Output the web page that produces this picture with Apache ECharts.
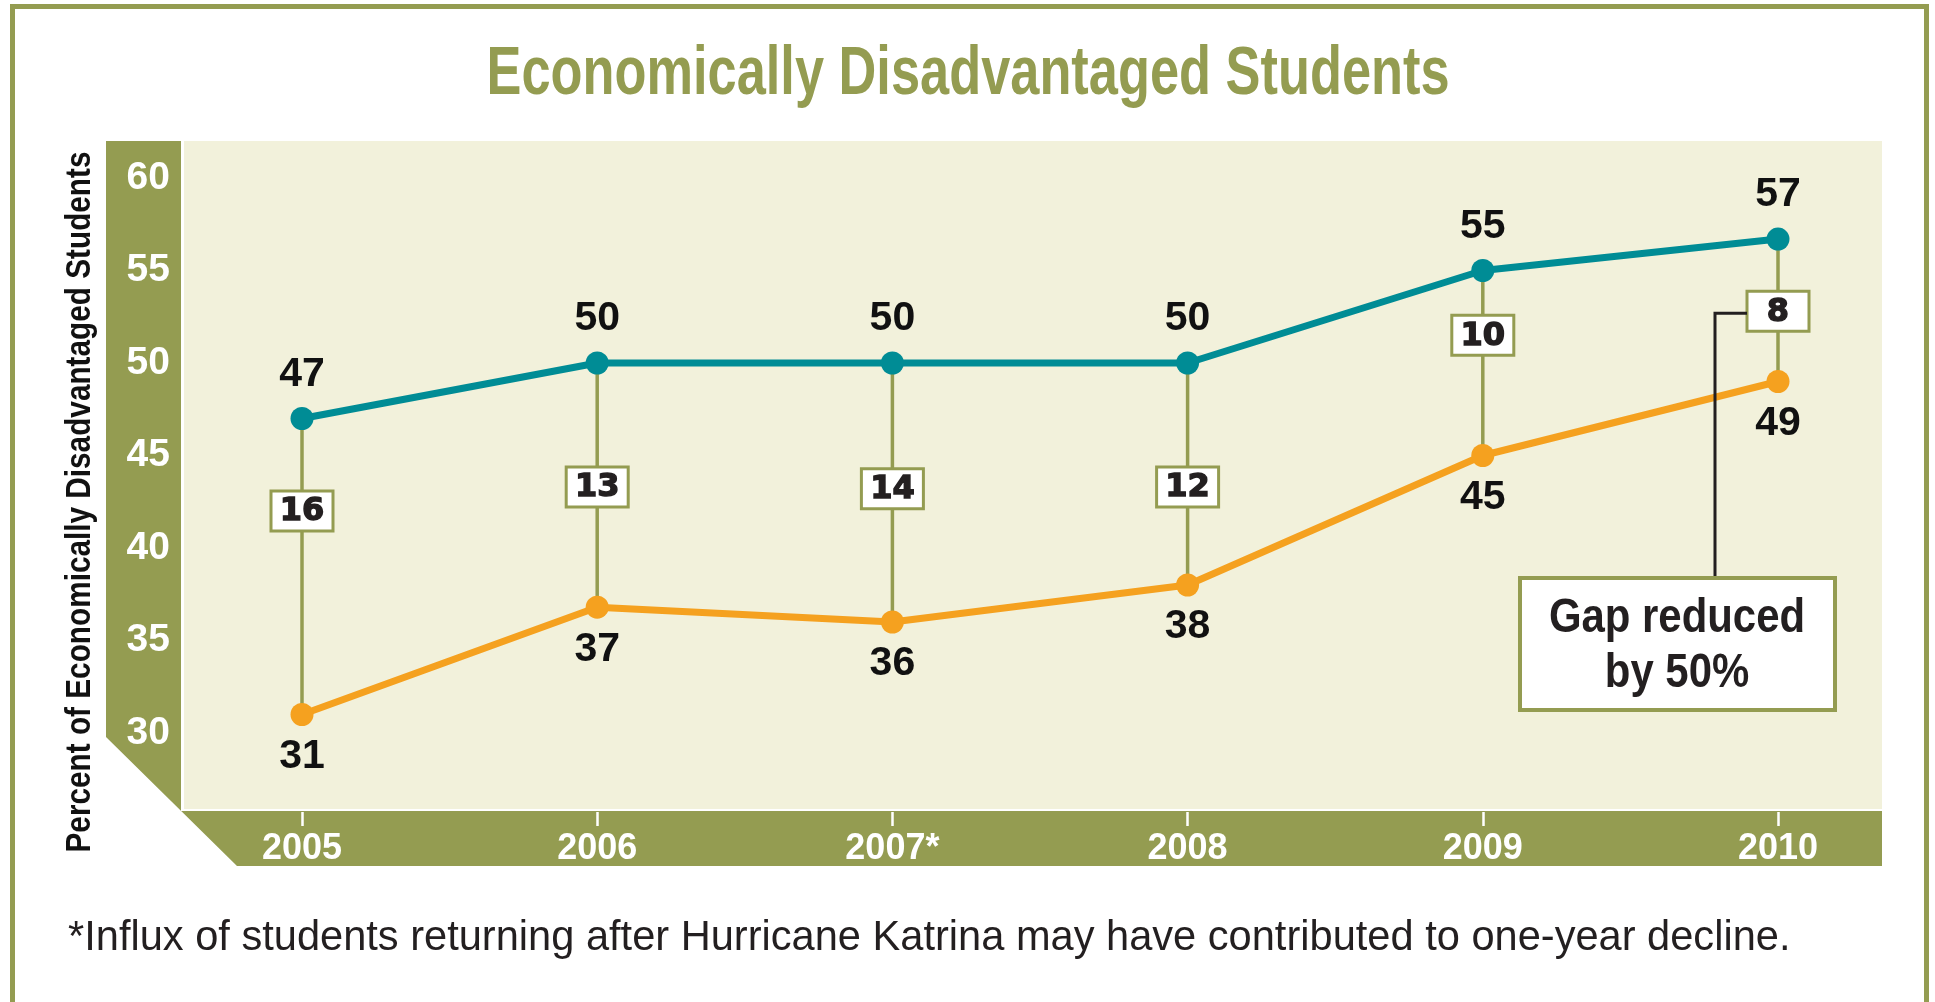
<!DOCTYPE html>
<html>
<head>
<meta charset="utf-8">
<script src="https://cdn.jsdelivr.net/npm/echarts@6/dist/echarts.min.js"></script>
<style>
    html, body { margin: 0; padding: 0; background: #fff; }
    #chart { width: 1935px; height: 1002px; }
</style>
</head>
<body>
<div id="chart"></div>
<script>
// 数据
var years = ['2005', '2006', '2007*', '2008', '2009', '2010'];
var tealValues = [47, 50, 50, 50, 55, 56.7];     // 上方折线
var orangeValues = [31, 36.8, 36, 38, 45, 49];   // 下方折线
var gapValues = [16, 13, 14, 12, 10, 8];         // 差距
var gapBoxAt = [42, 43.3, 43.2, 43.3, 51.5, 52.8]; // 差距方框所在的纵轴值
var yTicks = [30, 35, 40, 45, 50, 55, 60];

var OLIVE = '#949C51';
var CREAM = '#F2F1DB';
var TEAL = '#008C95';
var ORANGE = '#F5A11F';
var GRID_GRAY = '#6D6E70';
var SANS = '"Liberation Sans", Arial, sans-serif';

var chart = echarts.init(document.getElementById('chart'));

var gapData = years.map(function (y, i) {
    return [i, tealValues[i], orangeValues[i], gapBoxAt[i], gapValues[i]];
});

var option = {
    animation: false,
    backgroundColor: '#fff',
    graphic: [
        // 外框
        { type: 'rect', z: 0, shape: { x: 12.5, y: 6.5, width: 1914, height: 1010 },
          style: { fill: 'none', stroke: OLIVE, lineWidth: 5 } },
        // 绘图区背景
        { type: 'rect', z: 0, shape: { x: 184, y: 141, width: 1698, height: 668 },
          style: { fill: CREAM } },
        // 坐标轴色带
        { type: 'polygon', z: 0,
          shape: { points: [[106, 141], [181, 141], [181, 811], [1882, 811], [1882, 866], [237, 866], [106, 737]] },
          style: { fill: OLIVE } },
        // 标题（窄体：横向压缩）
        { type: 'text', z: 5, x: 968, y: 75, scaleX: 0.77,
          style: { text: 'Economically Disadvantaged Students', fill: OLIVE,
                   font: 'bold 68px ' + SANS,
                   align: 'center', verticalAlign: 'middle' } },
        // 纵轴标题
        { type: 'text', z: 5, x: 80, y: 502, rotation: Math.PI / 2, scaleX: 0.85,
          style: { text: 'Percent of Economically Disadvantaged Students', fill: '#111',
                   font: 'bold 35px ' + SANS,
                   align: 'center', verticalAlign: 'middle' } },
        // 脚注
        { type: 'text', z: 5, x: 68, y: 939,
          style: { text: '*Influx of students returning after Hurricane Katrina may have contributed to one-year decline.',
                   fill: '#231F20', font: '41.6px ' + SANS,
                   align: 'left', verticalAlign: 'middle' } },
        // 注释框
        { type: 'rect', z: 6, shape: { x: 1520, y: 578, width: 315, height: 132 },
          style: { fill: '#fff', stroke: OLIVE, lineWidth: 4 } },
        { type: 'text', z: 7, x: 1677, y: 646, scaleX: 0.855,
          style: { text: 'Gap reduced\nby 50%', fill: '#231F20', lineHeight: 55,
                   font: 'bold 49px ' + SANS,
                   align: 'center', verticalAlign: 'middle' } }
    ],
    grid: [
        { left: 184, right: 53, top: 178, bottom: 269 },
        { left: 302, right: 157, top: 178, bottom: 269 }
    ],
    xAxis: [
        { gridIndex: 0, type: 'value', min: 0, max: 1, show: false },
        {
            gridIndex: 1, type: 'category', data: years, boundaryGap: false,
            offset: 79,
            axisLine: { show: false },
            axisTick: { show: true, length: 14, lineStyle: { color: '#fff', width: 2.5 } },
            axisLabel: {
                color: '#fff', fontSize: 36, fontWeight: 'bold', margin: 19,
                fontFamily: SANS
            },
            splitLine: { show: false }
        }
    ],
    yAxis: [
        {
            gridIndex: 0, type: 'value', min: yTicks[0], max: yTicks[yTicks.length - 1], interval: 5,
            axisLine: { show: false }, axisTick: { show: false },
            axisLabel: {
                color: '#fff', fontSize: 39, fontWeight: 'bold', margin: 14,
                fontFamily: SANS
            },
            splitLine: { lineStyle: { color: GRID_GRAY, width: 2 } }
        },
        { gridIndex: 1, type: 'value', min: 30, max: 60, show: false }
    ],
    series: [
        {
            type: 'custom',
            xAxisIndex: 1, yAxisIndex: 1,
            z: 2,
            clip: false,
            data: gapData,
            encode: { x: 0, y: [1, 2] },
            renderItem: function (params, api) {
                var top = api.coord([api.value(0), api.value(1)]);
                var bot = api.coord([api.value(0), api.value(2)]);
                var box = api.coord([api.value(0), api.value(3)]);
                return {
                    type: 'group',
                    children: [
                        { type: 'line', shape: { x1: top[0], y1: top[1], x2: bot[0], y2: bot[1] },
                          style: { stroke: OLIVE, lineWidth: 3.5 } },
                        { type: 'rect', shape: { x: box[0] - 31, y: box[1] - 20, width: 62, height: 40 },
                          style: { fill: '#fff', stroke: OLIVE, lineWidth: 3 } },
                        // 粗黑数字：描边加粗
                        { type: 'text', x: box[0], y: box[1] + 1,
                          style: { text: String(api.value(4)), fill: '#231F20',
                                   stroke: '#231F20', lineWidth: 1.4,
                                   font: 'bold 32px "DejaVu Sans", sans-serif',
                                   align: 'center', verticalAlign: 'middle' } }
                    ]
                };
            }
        },
        {
            name: 'teal', type: 'line', xAxisIndex: 1, yAxisIndex: 1, z: 4,
            data: tealValues,
            symbol: 'circle', symbolSize: 23,
            lineStyle: { color: TEAL, width: 7 },
            itemStyle: { color: TEAL },
            label: {
                show: true, position: 'top', distance: 12,
                color: '#111', fontSize: 41, fontWeight: 'bold',
                fontFamily: SANS,
                formatter: function (p) { return Math.round(p.value); }
            }
        },
        {
            name: 'orange', type: 'line', xAxisIndex: 1, yAxisIndex: 1, z: 4,
            data: orangeValues,
            symbol: 'circle', symbolSize: 23,
            lineStyle: { color: ORANGE, width: 7 },
            itemStyle: { color: ORANGE },
            label: {
                show: true, position: 'bottom', distance: 10,
                color: '#111', fontSize: 41, fontWeight: 'bold',
                fontFamily: SANS,
                formatter: function (p) { return Math.round(p.value); }
            }
        }
    ]
};

chart.setOption(option);

// 注释连线：从注释框连到最后一个差距方框
var last = years.length - 1;
var boxPt = chart.convertToPixel({ xAxisIndex: 1, yAxisIndex: 1 }, [last, gapBoxAt[last]]);
var graphics = option.graphic.slice();
graphics.push({
    type: 'polyline', z: 5,
    shape: { points: [[1715, 578], [1715, boxPt[1] + 2], [boxPt[0] - 31, boxPt[1] + 2]] },
    style: { stroke: '#231F20', lineWidth: 3, fill: 'none' }
});
chart.setOption({ graphic: graphics }, { replaceMerge: ['graphic'] });
</script>
</body>
</html>
